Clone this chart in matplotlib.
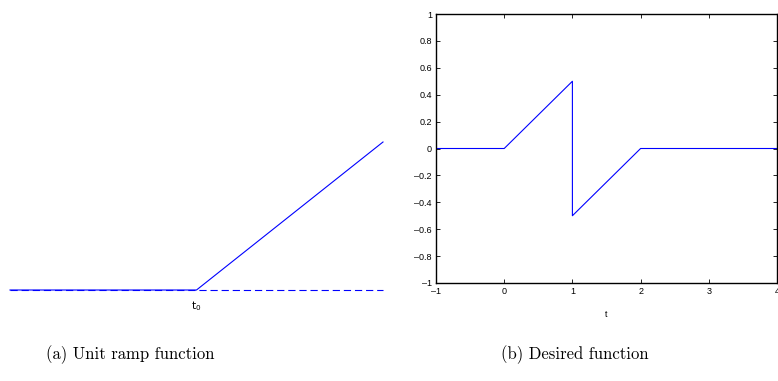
import numpy as np
import matplotlib
matplotlib.use("Agg")
import matplotlib.pyplot as plt
from matplotlib.ticker import FuncFormatter

# (a) unit ramp, t0 at 0
ramp_x = [-1, 0, 1]
ramp_y = [0, 0, 1]
base_x = [-1, 1]
base_y = [0, 0]

# (b) desired function
des_x = [-1, 0, 1, 1, 2, 4]
des_y = [0, 0, 0.5, -0.5, 0, 0]
xticks = [-1, 0, 1, 2, 3, 4]
yticks = [-1, -0.8, -0.6, -0.4, -0.2, 0, 0.2, 0.4, 0.6, 0.8, 1]

W, H = 778, 381
fig = plt.figure(figsize=(W / 100, H / 100), dpi=100)
blue = (0, 0, 1)

# left panel, no axes drawn
ax1 = fig.add_axes([10 / W, 1 - 290 / H, (383 - 10) / W, (290 - 142) / H])
ax1.plot(base_x, base_y, color=blue, lw=0.8, dashes=(6.5, 3.5), clip_on=False)
ax1.plot(ramp_x, ramp_y, color=blue, lw=0.8, clip_on=False)
ax1.set_xlim(-1, 1)
ax1.set_ylim(0, 1)
ax1.axis("off")
ax1.text(0, -0.06, r"$\mathrm{t}_0$", ha="center", va="top", fontsize=7.5,
         fontfamily="DejaVu Sans")


def matlab_fmt(v, pos):
    if abs(v) < 1e-9:
        return "0"
    return ("%g" % v).replace("-", "\u2013")


# right panel
ax2 = fig.add_axes([436 / W, 1 - 283 / H, (777 - 436) / W, (283 - 14) / H])
ax2.plot(des_x, des_y, color=blue, lw=0.8)
ax2.set_xlim(-1, 4)
ax2.set_ylim(-1, 1)
ax2.set_xticks(xticks)
ax2.set_yticks(yticks)
ax2.xaxis.set_major_formatter(FuncFormatter(matlab_fmt))
ax2.yaxis.set_major_formatter(FuncFormatter(matlab_fmt))
ax2.tick_params(direction="in", length=3, width=0.6, labelsize=6.5,
                top=True, right=True, pad=3)
for lab in ax2.get_xticklabels() + ax2.get_yticklabels():
    lab.set_fontfamily("Liberation Sans")
for s in ax2.spines.values():
    s.set_linewidth(1.0)
ax2.set_xlabel("t", fontsize=6.5, fontfamily="Liberation Sans", labelpad=10)

# captions
fig.text(130 / W, 1 - 355 / H, "(a) Unit ramp function", ha="center",
         va="center", fontsize=12, fontfamily="cmr10")
fig.text(575 / W, 1 - 355 / H, "(b) Desired function", ha="center",
         va="center", fontsize=12, fontfamily="cmr10")

fig.savefig("out.png", dpi=100)
